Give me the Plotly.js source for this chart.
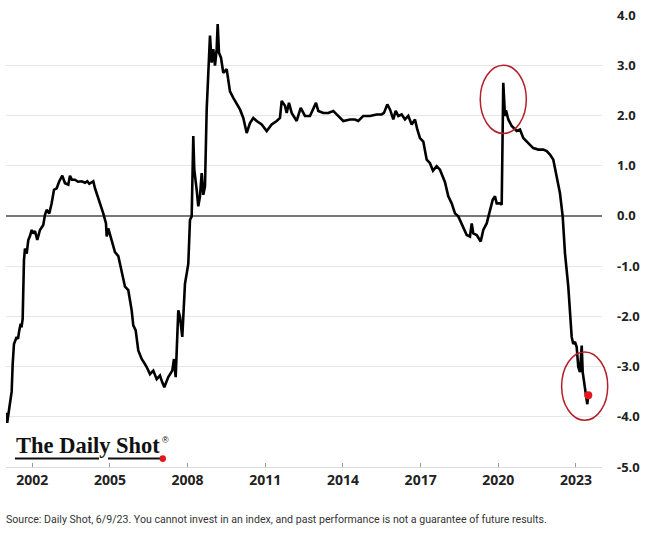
<!DOCTYPE html>
<html><head><meta charset="utf-8">
<script src="https://cdn.plot.ly/plotly-3.0.1.min.js"></script>
<style>html,body{margin:0;padding:0;background:#fff;} #chart{width:654px;height:533px;}</style>
</head><body><div id="chart"></div>
<script>
// Decimal years of each observation
const years = [
 2001.004,2001.031,2001.119,2001.204,2001.243,2001.293,2001.397,2001.448,2001.498,2001.552,
 2001.583,2001.629,2001.679,2001.718,2001.784,2001.846,2001.911,2001.977,2002.039,2002.104,
 2002.193,2002.239,2002.297,2002.425,2002.491,2002.556,2002.657,2002.749,2002.838,2002.942,
 2003.043,2003.159,2003.263,2003.391,2003.456,2003.533,2003.649,2003.765,2003.908,2004.036,
 2004.124,2004.202,2004.356,2004.422,2004.487,2004.615,2004.742,2004.847,2004.874,2004.935,
 2005.067,2005.194,2005.322,2005.453,2005.581,2005.708,2005.839,2005.901,2005.994,2006.094,
 2006.226,2006.314,2006.419,2006.546,2006.674,2006.805,2006.932,2007.010,2007.099,2007.253,
 2007.408,2007.473,2007.539,2007.639,2007.705,2007.794,2007.832,2007.898,2007.964,2008.026,
 2008.091,2008.157,2008.219,2008.257,2008.350,2008.412,2008.477,2008.543,2008.605,2008.671,
 2008.736,2008.798,2008.864,2008.929,2008.991,2009.057,2009.122,2009.161,2009.211,2009.289,
 2009.377,2009.509,2009.636,2009.764,2009.895,2010.022,2010.150,2010.281,2010.409,2010.536,
 2010.667,2010.861,2011.054,2011.247,2011.440,2011.567,2011.633,2011.761,2011.826,2011.915,
 2012.019,2012.212,2012.367,2012.533,2012.726,2012.854,2012.958,2013.047,2013.240,2013.433,
 2013.626,2013.757,2014.012,2014.271,2014.464,2014.592,2014.785,2015.044,2015.302,2015.496,
 2015.584,2015.712,2015.816,2015.944,2016.036,2016.137,2016.268,2016.396,2016.523,2016.654,
 2016.782,2016.871,2016.975,2017.102,2017.234,2017.361,2017.477,2017.620,2017.747,2017.941,
 2018.068,2018.199,2018.327,2018.454,2018.647,2018.779,2018.906,2018.972,2019.034,2019.165,
 2019.320,2019.420,2019.551,2019.679,2019.783,2019.872,2019.938,2020.065,2020.131,2020.192,
 2020.258,2020.297,2020.386,2020.517,2020.710,2020.837,2020.965,2021.158,2021.351,2021.544,
 2021.737,2021.869,2021.996,2022.124,2022.255,2022.382,2022.487,2022.576,2022.703,2022.769,
 2022.834,2022.896,2022.962,2023.027,2023.089,2023.155,2023.221,2023.259,2023.309,2023.387,
 2023.437,2023.476
];
// Index values
const values = [
 -3.92,-4.12,-3.80,-3.50,-2.95,-2.55,-2.41,-2.45,-2.28,-2.15,
 -2.22,-2.05,-0.88,-0.65,-0.75,-0.48,-0.40,-0.28,-0.35,-0.30,
 -0.48,-0.38,-0.28,-0.18,0.02,0.12,0.05,0.25,0.52,0.55,
 0.69,0.80,0.65,0.62,0.80,0.72,0.72,0.68,0.69,0.66,
 0.69,0.64,0.69,0.55,0.45,0.28,0.05,-0.15,-0.41,-0.25,
 -0.48,-0.72,-0.80,-1.08,-1.41,-1.48,-1.88,-2.18,-2.28,-2.68,
 -2.85,-2.92,-3.01,-3.15,-3.08,-3.25,-3.18,-3.30,-3.41,-3.21,
 -3.08,-2.85,-3.21,-1.88,-2.01,-2.41,-1.88,-1.35,-1.15,-0.95,
 -0.08,-0.01,1.59,0.92,0.52,0.19,0.39,0.85,0.42,0.59,
 2.12,2.99,3.59,3.05,3.32,2.99,3.32,3.82,3.25,3.15,
 2.85,2.92,2.48,2.35,2.22,2.12,1.95,1.65,1.85,1.95,
 1.89,1.82,1.69,1.82,1.89,1.95,2.29,2.19,2.05,2.25,
 2.05,1.89,2.15,1.99,1.99,2.15,2.25,2.09,2.05,2.05,
 2.09,2.02,1.89,1.92,1.92,1.89,1.99,1.99,2.02,2.02,
 2.05,2.22,2.12,1.92,2.09,1.99,2.02,1.92,1.99,1.82,
 1.92,1.72,1.55,1.48,1.12,1.05,0.90,0.99,0.92,0.67,
 0.39,0.25,0.05,-0.01,-0.25,-0.38,-0.41,-0.15,-0.35,-0.38,
 -0.51,-0.28,-0.15,0.12,0.32,0.39,0.25,0.25,0.22,2.65,
 1.99,2.10,1.92,1.79,1.69,1.72,1.55,1.45,1.35,1.32,
 1.32,1.29,1.22,1.12,0.79,0.45,-0.01,-0.75,-1.41,-1.88,
 -2.41,-2.55,-2.51,-2.61,-3.01,-3.11,-2.58,-3.11,-3.28,-3.55,
 -3.75,-3.57
];
const xTickVals = [2002, 2005, 2008, 2011, 2014, 2017, 2020, 2023];
const xTickText = ['2002', '2005', '2008', '2011', '2014', '2017', '2020', '2023'];
const yTickVals = [-5, -4, -3, -2, -1, 0, 1, 2, 3, 4];
const yTickText = ['-5.0', '-4.0', '-3.0', '-2.0', '-1.0', '0.0', '1.0', '2.0', '3.0', '4.0'];
const sourceText = 'Source: Daily Shot, 6/9/23. You cannot invest in an index, and past performance is not a guarantee of future results.';
const logoText = 'The Daily Shot';

const W = 654, H = 533;
const M = {l: 6, r: 52, t: 15, b: 66};
const xRange = [2000.985, 2024.005];
const yRange = [-5, 4];

// helpers: data -> paper, pixel -> paper
const dx2p = x => (x - xRange[0]) / (xRange[1] - xRange[0]);
const dy2p = y => (y - yRange[0]) / (yRange[1] - yRange[0]);
const pw = W - M.l - M.r, ph = H - M.t - M.b;
const px2p = px => (px - M.l) / pw;
const py2p = py => (H - M.b - py) / ph;

// points to highlight
let spikeIdx = years.findIndex(y => y > 2019.5);
years.forEach((yr, i) => { if (yr > 2019.5 && values[i] > values[spikeIdx]) spikeIdx = i; });
const lastIdx = years.length - 1;

const red = '#e3171b';
const ringColor = '#b3202a';
const rx = 0.89, ry = 0.68;
function ellipse(cx, cy) {
  return {type: 'circle', xref: 'paper', yref: 'paper',
    x0: dx2p(cx - rx), x1: dx2p(cx + rx), y0: dy2p(cy - ry), y1: dy2p(cy + ry),
    line: {color: ringColor, width: 1.5}, layer: 'above'};
}

const traces = [
  {type: 'scatter', mode: 'lines', x: years, y: values,
   line: {color: '#000', width: 2.6}, hoverinfo: 'skip'},
  {type: 'scatter', mode: 'markers', x: [years[lastIdx]], y: [values[lastIdx]],
   marker: {color: red, size: 8}, hoverinfo: 'skip'}
];

const layout = {
  width: W, height: H,
  margin: {l: M.l, r: M.r, t: M.t, b: M.b, pad: 0},
  paper_bgcolor: '#fff', plot_bgcolor: '#fff',
  showlegend: false,
  xaxis: {
    range: xRange, tickmode: 'array', tickvals: xTickVals, ticktext: xTickText,
    ticks: 'inside', ticklen: 4, tickwidth: 1, tickcolor: '#999',
    showgrid: false, zeroline: false, showline: true, linecolor: '#dcdcdc', linewidth: 1,
    tickfont: {family: 'Open Sans, sans-serif', size: 14, color: '#222', weight: 700},
    fixedrange: true
  },
  yaxis: {
    side: 'right', range: yRange, tickmode: 'array', tickvals: yTickVals, ticktext: yTickText,
    ticks: '', ticklabelstandoff: 14,
    showgrid: true, gridcolor: '#e6e6e6', gridwidth: 1,
    zeroline: true, zerolinecolor: '#777', zerolinewidth: 1.5,
    showline: false,
    tickfont: {family: 'Open Sans, sans-serif', size: 13, color: '#222', weight: 700},
    fixedrange: true
  },
  shapes: [
    ellipse(years[spikeIdx], values[spikeIdx] - 0.33),
    ellipse(years[lastIdx] - 0.14, values[lastIdx] + 0.18),
    // logo underline (two pieces around the descender) and red dot
    {type: 'line', xref: 'paper', yref: 'paper', x0: px2p(15), x1: px2p(99), y0: py2p(458.5), y1: py2p(458.5),
     line: {color: '#111', width: 2}},
    {type: 'line', xref: 'paper', yref: 'paper', x0: px2p(108), x1: px2p(162), y0: py2p(458.5), y1: py2p(458.5),
     line: {color: '#111', width: 2}},
    {type: 'circle', xref: 'paper', yref: 'paper', x0: px2p(159.5), x1: px2p(166), y0: py2p(462), y1: py2p(455.2),
     fillcolor: red, line: {color: red, width: 0}}
  ],
  annotations: [
    {xref: 'paper', yref: 'paper', x: px2p(14), y: py2p(445.6), xanchor: 'left', yanchor: 'middle',
     text: logoText, showarrow: false,
     font: {family: 'Liberation Serif, DejaVu Serif, serif', size: 22.5, color: '#111', weight: 700}},
    {xref: 'paper', yref: 'paper', x: px2p(160), y: py2p(440), xanchor: 'left', yanchor: 'middle',
     text: '®', showarrow: false,
     font: {family: 'Liberation Sans, sans-serif', size: 9, color: '#111'}},
    {xref: 'paper', yref: 'paper', x: px2p(4), y: py2p(519), xanchor: 'left', yanchor: 'middle',
     text: sourceText, showarrow: false,
     font: {family: 'Roboto, sans-serif', size: 10.6, color: '#333'}}
  ]
};

Plotly.newPlot('chart', traces, layout, {displayModeBar: false, staticPlot: true});
</script>
</body></html>
